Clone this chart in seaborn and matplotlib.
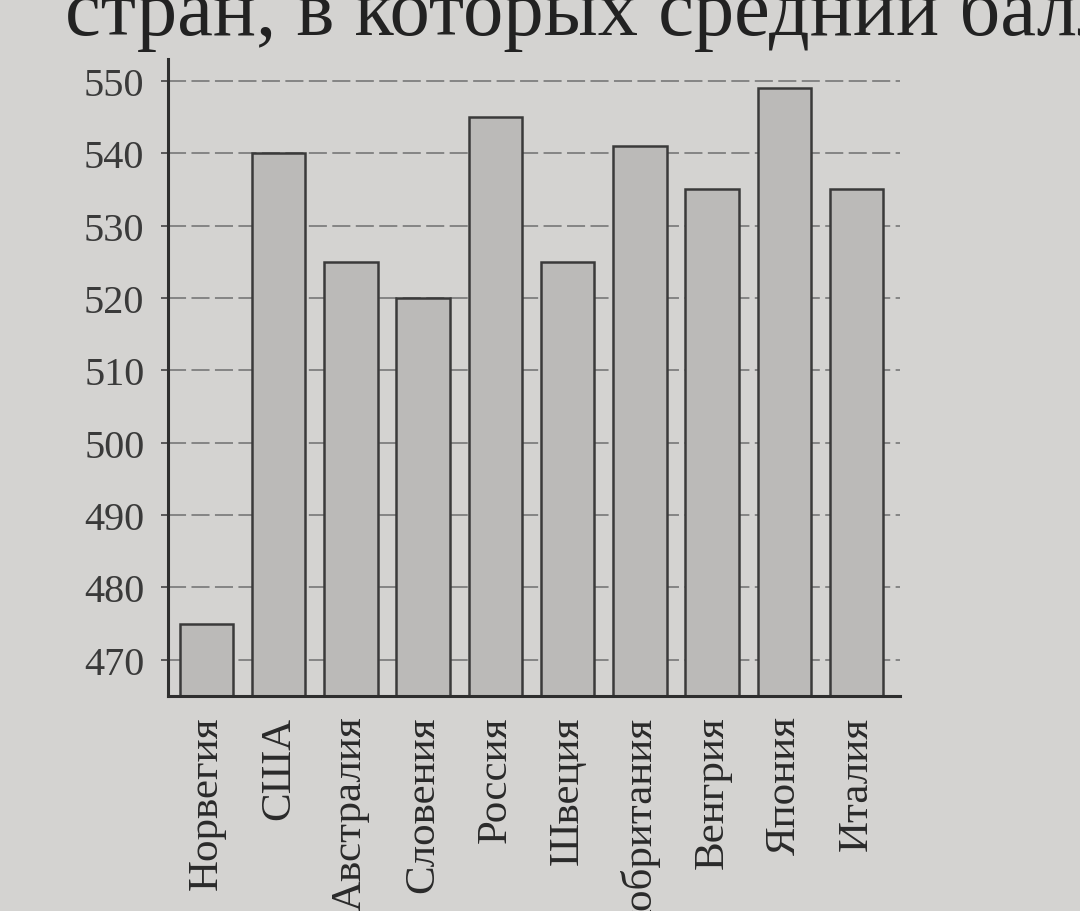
import matplotlib
matplotlib.use("Agg")
import matplotlib.pyplot as plt
import seaborn as sns
import pandas as pd

countries = ["Норвегия", "США", "Австралия", "Словения", "Россия",
             "Швеция", "Великобритания", "Венгрия", "Япония", "Италия"]
scores = [475, 540, 525, 520, 545, 525, 541, 535, 549, 535]
yticks = [470, 480, 490, 500, 510, 520, 530, 540, 550]
title_text = "стран, в которых средний балл"

sns.set_theme(style="whitegrid")
plt.rcParams['font.family'] = ['Liberation Serif', 'DejaVu Serif']

paper = "#d4d3d1"
fig = plt.figure(figsize=(10.8, 9.12), dpi=100, facecolor=paper)
ax = fig.add_axes([0.1556, 0.2357, 0.8333 - 0.1556, 0.934 - 0.2357])
ax.set_facecolor(paper)

df = pd.DataFrame({"country": countries, "score": scores})
sns.barplot(data=df, x="country", y="score", order=countries, color="#bbbab8",
            saturation=1, width=0.74, edgecolor="#3a3a3a", linewidth=1.8, ax=ax)

ax.set_ylim(465, 553)
ax.set_xlim(-0.53, 9.6)
ax.set_yticks(yticks)
ax.set_yticklabels([str(v) for v in yticks], fontsize=29, color="#3a3a3a")
ax.set_xticks(range(len(countries)))
ax.set_xticklabels(countries, rotation=90, fontsize=31, color="#2a2a2a", va="top")
ax.set_xlabel("")
ax.set_ylabel("")
ax.grid(axis="y", color="#7e7e7e", linewidth=1.3, linestyle=(0, (10, 3)))
ax.grid(axis="x", visible=False)
ax.set_axisbelow(True)
for s in ["top", "right"]:
    ax.spines[s].set_visible(False)
for s in ["left", "bottom"]:
    ax.spines[s].set_visible(True)
    ax.spines[s].set_color("#2e2e2e")
    ax.spines[s].set_linewidth(2.2)
ax.tick_params(axis="y", length=5, width=1.2, color="#444444", pad=12, left=True)
ax.tick_params(axis="x", length=0, pad=14)

fig.text(0.06, 0.962, title_text, fontsize=58, color="#222222", ha="left", va="baseline")

fig.savefig("out.png", dpi=100, facecolor=paper)
